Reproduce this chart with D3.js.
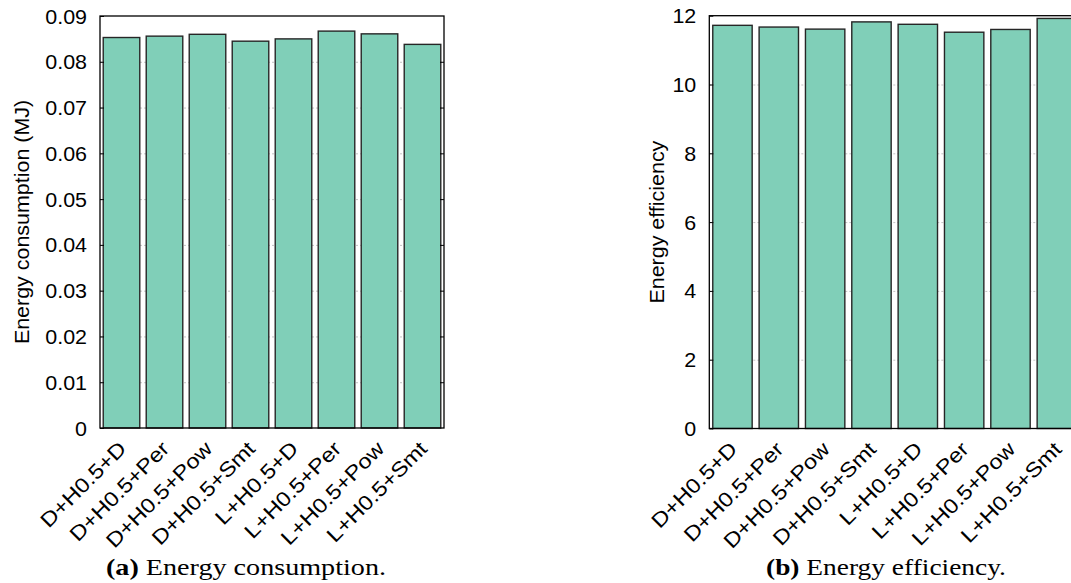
<!DOCTYPE html>
<html>
<head>
<meta charset="utf-8">
<script src="https://cdn.jsdelivr.net/npm/d3@7"></script>
<style>
  html, body { margin: 0; padding: 0; background: #fff; }
  svg { display: block; }
</style>
</head>
<body>
<svg id="chart" width="1071" height="583"></svg>
<script>
// ---- data ----
const categories = ["D+H0.5+D", "D+H0.5+Per", "D+H0.5+Pow", "D+H0.5+Smt",
                    "L+H0.5+D", "L+H0.5+Per", "L+H0.5+Pow", "L+H0.5+Smt"];
const consumption = [0.0853, 0.0856, 0.0860, 0.0845, 0.0850, 0.0867, 0.0861, 0.0838];
const efficiency = [11.72, 11.67, 11.61, 11.82, 11.75, 11.52, 11.60, 11.92];
const consumptionTicks = [0, 0.01, 0.02, 0.03, 0.04, 0.05, 0.06, 0.07, 0.08, 0.09];
const efficiencyTicks = [0, 2, 4, 6, 8, 10, 12];

const svg = d3.select("#chart");
const FONT = "'Liberation Sans', Arial, Helvetica, sans-serif";
const FS = 19.5;
const STRETCH = 1.1;
const XFS = 20.5;
const XSTRETCH = 1.15;
const BAR_FILL = "#80cfb8";

function panel(opts) {
  const { left, top, width, height, values, yMax, ticks, fmt, yTitle, titleX, caption } = opts;
  const g = svg.append("g").attr("transform", `translate(${left},${top})`);

  const x = d3.scaleBand().domain(categories).range([0, width])
    .paddingInner(0.15).paddingOuter(0.075);
  const y = d3.scaleLinear().domain([0, yMax]).range([height, 0]);

  // grid
  const grid = g.append("g").call(d3.axisLeft(y).tickValues(ticks.slice(1, -1)).tickSize(-width).tickFormat(""));
  grid.select(".domain").remove();
  grid.selectAll("line").attr("stroke", "#c4c4c4").attr("stroke-width", 1).attr("stroke-dasharray", "2,2");

  // bars
  g.selectAll("rect.bar").data(values).enter().append("rect")
    .attr("class", "bar")
    .attr("x", (d, i) => x(categories[i]))
    .attr("y", d => y(d))
    .attr("width", x.bandwidth())
    .attr("height", d => height - y(d))
    .attr("fill", BAR_FILL)
    .attr("stroke", "#262626")
    .attr("stroke-width", 1.4);

  // left axis with inward ticks
  const ax = g.append("g").call(d3.axisLeft(y).tickValues(ticks).tickSize(-4).tickFormat(fmt));
  ax.select(".domain").remove();
  ax.selectAll(".tick line").attr("stroke", "#000");
  ax.selectAll(".tick text")
    .attr("x", null).attr("dy", null)
    .attr("transform", `translate(-13,7) scale(${STRETCH},1)`)
    .attr("text-anchor", "end")
    .attr("fill", "#000")
    .style("font-family", FONT).style("font-size", FS + "px");

  // right mirror ticks
  const axr = g.append("g").attr("transform", `translate(${width},0)`)
    .call(d3.axisRight(y).tickValues(ticks.slice(1, -1)).tickSize(-4).tickFormat(""));
  axr.select(".domain").remove();
  axr.selectAll(".tick line").attr("stroke", "#000");

  // frame
  g.append("rect").attr("x", 0).attr("y", 0).attr("width", width).attr("height", height)
    .attr("fill", "none").attr("stroke", "#000").attr("stroke-width", 1.3);

  // x labels
  const xa = g.append("g").attr("transform", `translate(0,${height})`)
    .call(d3.axisBottom(x).tickSize(0).tickPadding(0));
  xa.select(".domain").remove();
  xa.selectAll(".tick text")
    .attr("y", null).attr("dy", null)
    .attr("transform", `translate(6,22) rotate(-45) scale(${XSTRETCH},1)`)
    .attr("text-anchor", "end")
    .attr("fill", "#000")
    .style("font-family", FONT).style("font-size", XFS + "px");

  // y title
  svg.append("text")
    .attr("transform", `translate(${titleX},${top + height / 2}) rotate(-90) scale(${STRETCH},1)`)
    .attr("text-anchor", "middle")
    .attr("fill", "#000")
    .style("font-family", FONT).style("font-size", FS + "px")
    .text(yTitle);

  // caption
  const cap = svg.append("text")
    .attr("x", caption.x).attr("y", caption.y)
    .attr("textLength", caption.len).attr("lengthAdjust", "spacingAndGlyphs")
    .style("font-family", "'Liberation Serif', 'DejaVu Serif', serif")
    .style("font-size", "23px")
    .attr("fill", "#000");
  cap.append("tspan").style("font-weight", "bold").text(caption.tag);
  cap.append("tspan").text(" " + caption.text);
}

panel({
  left: 100, top: 16, width: 344, height: 412,
  values: consumption, yMax: 0.09, ticks: consumptionTicks,
  fmt: d => d === 0 ? "0" : d3.format(".2f")(d),
  yTitle: "Energy consumption (MJ)", titleX: 29,
  caption: { x: 106, y: 575, len: 280, tag: "(a)", text: "Energy consumption." }
});

panel({
  left: 709.3, top: 15.7, width: 370.7, height: 412.8,
  values: efficiency, yMax: 12, ticks: efficiencyTicks,
  fmt: d => String(d),
  yTitle: "Energy efficiency", titleX: 664,
  caption: { x: 766, y: 575, len: 240, tag: "(b)", text: "Energy efficiency." }
});
</script>
</body>
</html>
